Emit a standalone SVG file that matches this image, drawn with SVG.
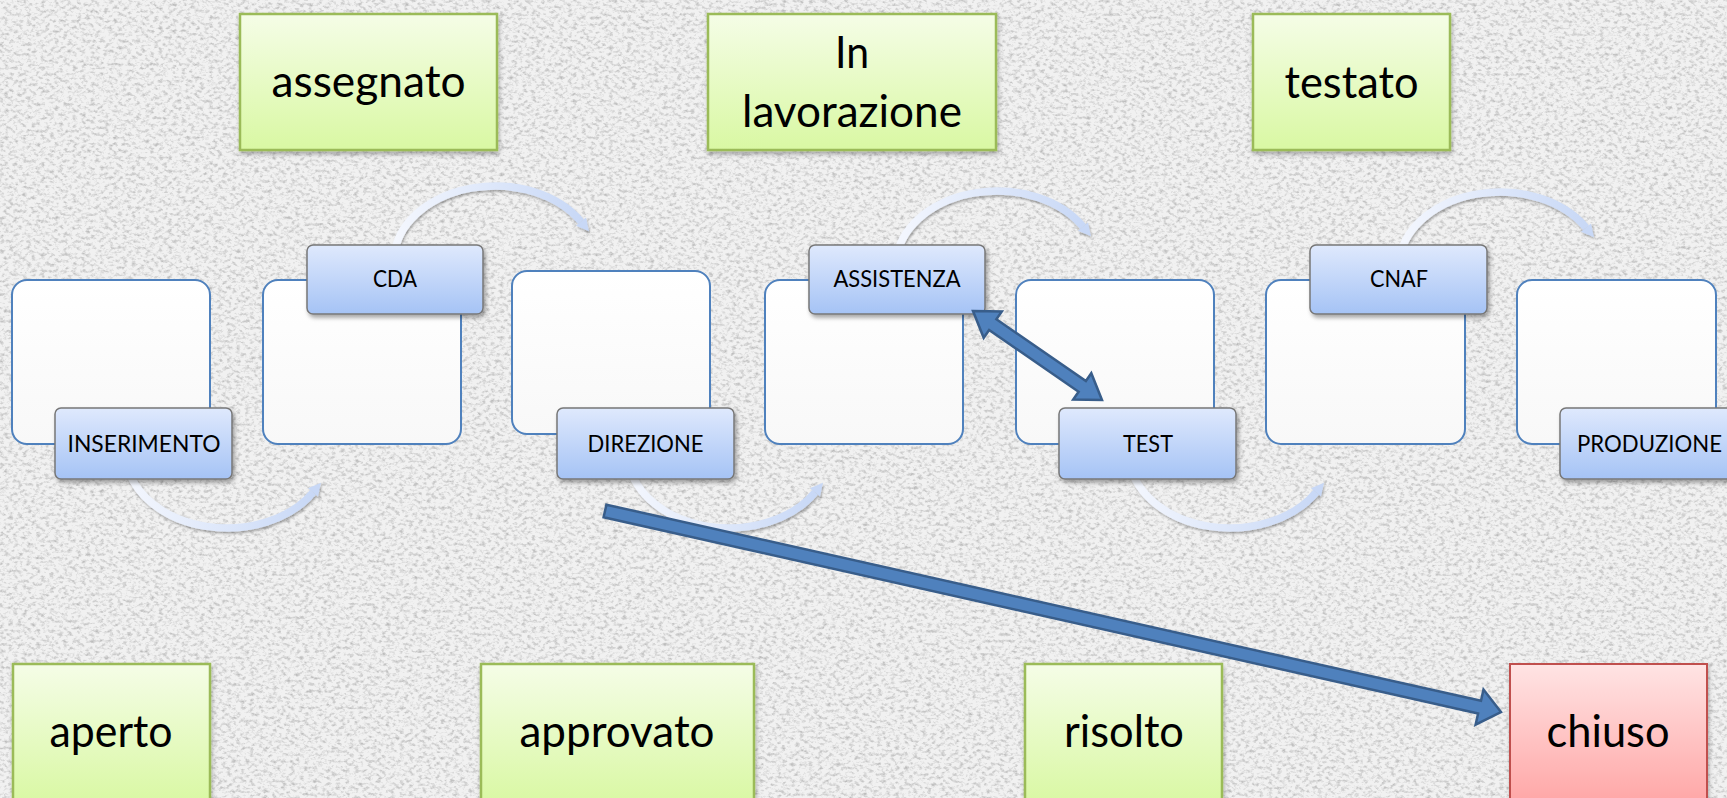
<svg xmlns="http://www.w3.org/2000/svg" width="1727" height="798" viewBox="0 0 1727 798">
<defs>
  <style>
    .big{font-family:Lato,"Open Sans","Liberation Sans",sans-serif;font-size:44px;text-anchor:middle;fill:#000}
    .lbl{font-family:Lato,"Open Sans","Liberation Sans",sans-serif;font-size:23px;text-anchor:middle;fill:#000}
    .sq{fill:url(#gSq);stroke:#4f81bd;stroke-width:2}
    .tag{fill:url(#gBlue);stroke:#777;stroke-width:1.5;filter:url(#sh)}
    .state{fill:url(#gGreen);stroke:#9bbb59;stroke-width:2.5;filter:url(#sh2)}
    .closed{fill:url(#gRed);stroke:#c0504d;stroke-width:2;filter:url(#sh2)}
    .arcF{fill:none;stroke:url(#gArc);stroke-width:7.5;marker-end:url(#ah)}
    .big-arrow{fill:#4f81bd;stroke:#385d8a;stroke-width:2.5;stroke-linejoin:miter}
  </style>
  <linearGradient id="gGreen" x1="0" y1="0" x2="0" y2="1">
    <stop offset="0" stop-color="#f5fde7"/><stop offset="1" stop-color="#d9f8a3"/>
  </linearGradient>
  <linearGradient id="gRed" x1="0" y1="0" x2="0" y2="1">
    <stop offset="0" stop-color="#ffe4e4"/><stop offset="1" stop-color="#ffa6a6"/>
  </linearGradient>
  <linearGradient id="gBlue" x1="0" y1="0" x2="0" y2="1">
    <stop offset="0" stop-color="#dfe9fd"/><stop offset="1" stop-color="#a5c3f5"/>
  </linearGradient>
  <linearGradient id="gSq" x1="0" y1="0" x2="0" y2="1">
    <stop offset="0" stop-color="#ffffff"/><stop offset="1" stop-color="#f8f8f8"/>
  </linearGradient>
  <linearGradient id="gArc" x1="0" y1="0" x2="1" y2="0">
    <stop offset="0" stop-color="#f4f7fe"/><stop offset="1" stop-color="#c8d8f6"/>
  </linearGradient>
  <filter id="sh" x="-10%" y="-20%" width="125%" height="150%">
    <feDropShadow dx="2" dy="3" stdDeviation="2" flood-color="#000" flood-opacity="0.35"/>
  </filter>
  <filter id="sh2" x="-10%" y="-10%" width="125%" height="130%">
    <feDropShadow dx="1" dy="3" stdDeviation="2" flood-color="#000" flood-opacity="0.3"/>
  </filter>
  <filter id="shArc" x="-10%" y="-20%" width="125%" height="150%">
    <feDropShadow dx="1" dy="2" stdDeviation="1.3" flood-color="#000" flood-opacity="0.3"/>
  </filter>
  <filter id="grain" x="0" y="0" width="1" height="1">
    <feTurbulence type="fractalNoise" baseFrequency="0.22 0.3" numOctaves="3" seed="7"/>
    <feColorMatrix type="matrix" values="0 0 0 0 0.5  0 0 0 0 0.5  0 0 0 0 0.5  -2.4 0 0 0 1.3"/>
  </filter>
  <marker id="ah" markerUnits="userSpaceOnUse" markerWidth="26" markerHeight="20" viewBox="-4 -10 26 20" refX="0" refY="0" orient="auto">
    <path d="M0 -6.5 L12.5 0 L0 6.5 Z" fill="#c8d8f6"/>
  </marker>
</defs>

<g id="background">
  <rect x="0" y="0" width="1727" height="798" fill="#f1f1f1"/>
  <rect x="0" y="0" width="1727" height="798" filter="url(#grain)"/>
</g>

<g id="squares">
  <rect id="sq1" class="sq" x="12" y="280" width="198" height="164" rx="15"/>
  <rect id="sq2" class="sq" x="263" y="280" width="198" height="164" rx="15"/>
  <rect id="sq3" class="sq" x="512" y="271" width="198" height="163" rx="15"/>
  <rect id="sq4" class="sq" x="765" y="280" width="198" height="164" rx="15"/>
  <rect id="sq5" class="sq" x="1016" y="280" width="198" height="164" rx="15"/>
  <rect id="sq6" class="sq" x="1266" y="280" width="199" height="164" rx="15"/>
  <rect id="sq7" class="sq" x="1517" y="280" width="199" height="164" rx="15"/>
</g>

<g id="flow-arcs" filter="url(#shArc)">
  <path class="arcF" d="M127 463.5 A101 75 0 0 0 313 492.3"/>
  <path class="arcF" d="M395 250.5 A101 75 0 0 1 581 221.7"/>
  <path class="arcF" d="M629 463.5 A101 75 0 0 0 815 492.3"/>
  <path class="arcF" d="M897 255.5 A101 75 0 0 1 1083 226.7"/>
  <path class="arcF" d="M1130 463.5 A101 75 0 0 0 1316 492.3"/>
  <path class="arcF" d="M1400 256.5 A101 75 0 0 1 1586 227.7"/>
</g>

<g id="node-inserimento">
  <rect class="tag" x="55" y="408" width="177" height="71" rx="6"/>
  <text class="lbl" x="144" y="452" textLength="153" lengthAdjust="spacingAndGlyphs">INSERIMENTO</text>
</g>
<g id="node-cda">
  <rect class="tag" x="307" y="245" width="176" height="69" rx="6"/>
  <text class="lbl" x="395" y="287" textLength="44" lengthAdjust="spacingAndGlyphs">CDA</text>
</g>
<g id="node-direzione">
  <rect class="tag" x="557" y="408" width="177" height="71" rx="6"/>
  <text class="lbl" x="645.5" y="452" textLength="116" lengthAdjust="spacingAndGlyphs">DIREZIONE</text>
</g>
<g id="node-assistenza">
  <rect class="tag" x="809" y="245" width="176" height="69" rx="6"/>
  <text class="lbl" x="897" y="287" textLength="127" lengthAdjust="spacingAndGlyphs">ASSISTENZA</text>
</g>
<g id="node-test">
  <rect class="tag" x="1059" y="408" width="177" height="71" rx="6"/>
  <text class="lbl" x="1148" y="452" textLength="50" lengthAdjust="spacingAndGlyphs">TEST</text>
</g>
<g id="node-cnaf">
  <rect class="tag" x="1310" y="245" width="177" height="69" rx="6"/>
  <text class="lbl" x="1399" y="287" textLength="58" lengthAdjust="spacingAndGlyphs">CNAF</text>
</g>
<g id="node-produzione">
  <rect class="tag" x="1560" y="408" width="177" height="71" rx="6"/>
  <text class="lbl" x="1649.5" y="452" textLength="145" lengthAdjust="spacingAndGlyphs">PRODUZIONE</text>
</g>

<g id="state-assegnato">
  <rect class="state" x="240" y="14" width="257" height="136"/>
  <text class="big" x="368.5" y="97" textLength="194" lengthAdjust="spacingAndGlyphs">assegnato</text>
</g>
<g id="state-in-lavorazione">
  <rect class="state" x="708" y="14" width="288" height="136"/>
  <text class="big" x="852" y="68" textLength="34" lengthAdjust="spacingAndGlyphs">In</text>
  <text class="big" x="852" y="127" textLength="220" lengthAdjust="spacingAndGlyphs">lavorazione</text>
</g>
<g id="state-testato">
  <rect class="state" x="1253" y="14" width="197" height="136"/>
  <text class="big" x="1351.5" y="98" textLength="134" lengthAdjust="spacingAndGlyphs">testato</text>
</g>
<g id="state-aperto">
  <rect class="state" x="13" y="664" width="197" height="140"/>
  <text class="big" x="111" y="747" textLength="123" lengthAdjust="spacingAndGlyphs">aperto</text>
</g>
<g id="state-approvato">
  <rect class="state" x="481" y="664" width="273" height="140"/>
  <text class="big" x="617" y="747" textLength="195" lengthAdjust="spacingAndGlyphs">approvato</text>
</g>
<g id="state-risolto">
  <rect class="state" x="1025" y="664" width="197" height="140"/>
  <text class="big" x="1124" y="747" textLength="120" lengthAdjust="spacingAndGlyphs">risolto</text>
</g>
<g id="state-chiuso">
  <rect class="closed" x="1510" y="664" width="197" height="140"/>
  <text class="big" x="1608" y="747" textLength="123" lengthAdjust="spacingAndGlyphs">chiuso</text>
</g>

<g id="connectors">
  <polygon class="big-arrow" points="973,311 1001.8,311.5 996.4,319.3 1085.9,381 1091.3,373.2 1102,400 1073.2,399.5 1078.6,391.7 989.1,330 983.7,337.8"/>
  <polygon class="big-arrow" points="606.4,504.7 1481,700.8 1483.5,689.6 1501,712 1475.6,724.7 1478.1,713.5 603.6,517.3"/>
</g>
</svg>
